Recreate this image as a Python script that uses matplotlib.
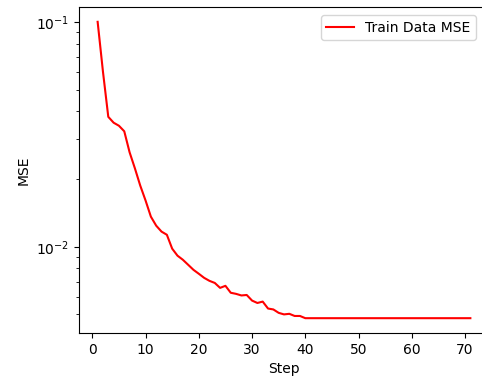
import matplotlib
matplotlib.use("Agg")
import matplotlib.pyplot as plt

steps = list(range(1, 72))
mse_head = [0.1, 0.060, 0.0378, 0.0356, 0.0345, 0.0326, 0.0263, 0.0223, 0.0187, 0.01605,
            0.0136, 0.0124, 0.01167, 0.0113, 0.0098, 0.00912, 0.00875, 0.00831, 0.00789, 0.00758,
            0.00727, 0.00705, 0.0069, 0.00656, 0.0067, 0.00624, 0.00617, 0.00607, 0.0061, 0.00576,
            0.00562, 0.0057, 0.00531, 0.00526, 0.00508, 0.0050, 0.00503, 0.00492, 0.00492, 0.00481]
mse_tail = [0.00481] * 31
mse = mse_head + mse_tail

W, H = 482, 379
fig = plt.figure(figsize=(W / 100, H / 100), dpi=100)
ax = fig.add_axes([79 / W, (H - 333) / H, (489 - 79) / W, (333 - 7) / H])
ax.plot(steps, mse, color="red", label="Train Data MSE")
ax.set_yscale("log")
ax.set_xlabel("Step")
ax.set_ylabel("MSE")
ax.set_xticks([0, 10, 20, 30, 40, 50, 60, 70])
ax.set_xlim(-2.5, 74.5)
ax.spines["right"].set_visible(False)
ax.legend(loc="upper right", bbox_to_anchor=(476 / W, 1 - 15 / H),
          bbox_transform=fig.transFigure, borderaxespad=0)
fig.savefig("out.png", dpi=100)
